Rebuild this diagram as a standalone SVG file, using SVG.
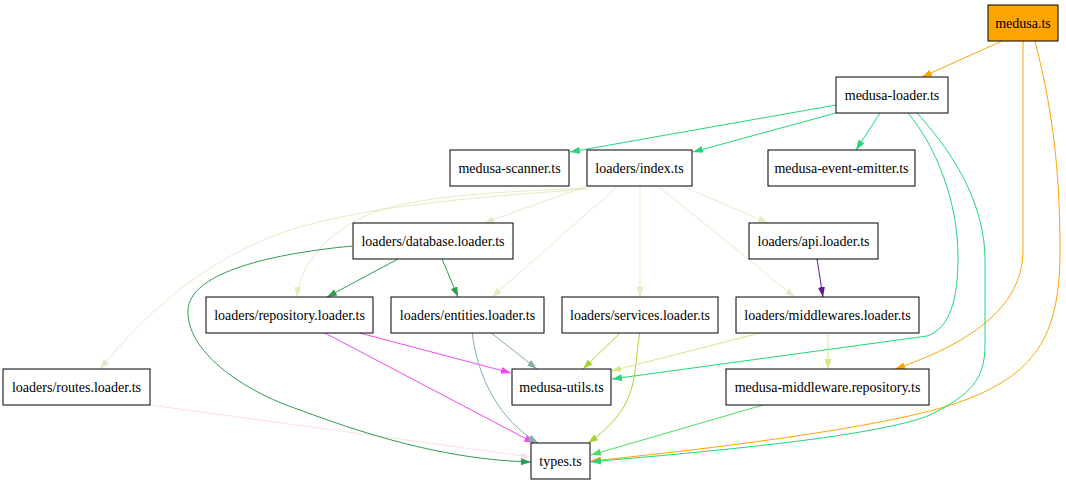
<svg xmlns="http://www.w3.org/2000/svg" width="1066" height="483" viewBox="0 0 1066 483">
<style>
.n rect{fill:#fff;stroke:#000;stroke-width:1}
.n text{font-family:"Liberation Serif","Times New Roman",serif;font-size:14px;fill:#000;text-anchor:middle}
.e path{fill:none;stroke-width:1}
</style>
<defs>
<marker id="a-or" markerUnits="userSpaceOnUse" markerWidth="10" markerHeight="7" refX="10" refY="3.5" orient="auto"><path d="M0,0L10,3.5L0,7z" fill="#ffa500"/></marker>
<marker id="a-sg" markerUnits="userSpaceOnUse" markerWidth="10" markerHeight="7" refX="10" refY="3.5" orient="auto"><path d="M0,0L10,3.5L0,7z" fill="#22d67a"/></marker>
<marker id="a-bg" markerUnits="userSpaceOnUse" markerWidth="10" markerHeight="7" refX="10" refY="3.5" orient="auto"><path d="M0,0L10,3.5L0,7z" fill="#e9e9c6"/></marker>
<marker id="a-dg" markerUnits="userSpaceOnUse" markerWidth="10" markerHeight="7" refX="10" refY="3.5" orient="auto"><path d="M0,0L10,3.5L0,7z" fill="#2e9e50"/></marker>
<marker id="a-mg" markerUnits="userSpaceOnUse" markerWidth="10" markerHeight="7" refX="10" refY="3.5" orient="auto"><path d="M0,0L10,3.5L0,7z" fill="#f446f4"/></marker>
<marker id="a-tl" markerUnits="userSpaceOnUse" markerWidth="10" markerHeight="7" refX="10" refY="3.5" orient="auto"><path d="M0,0L10,3.5L0,7z" fill="#80b0a8"/></marker>
<marker id="a-yg" markerUnits="userSpaceOnUse" markerWidth="10" markerHeight="7" refX="10" refY="3.5" orient="auto"><path d="M0,0L10,3.5L0,7z" fill="#a6d42c"/></marker>
<marker id="a-py" markerUnits="userSpaceOnUse" markerWidth="10" markerHeight="7" refX="10" refY="3.5" orient="auto"><path d="M0,0L10,3.5L0,7z" fill="#d6e884"/></marker>
<marker id="a-pu" markerUnits="userSpaceOnUse" markerWidth="10" markerHeight="7" refX="10" refY="3.5" orient="auto"><path d="M0,0L10,3.5L0,7z" fill="#5c1a8c"/></marker>
<marker id="a-bgr" markerUnits="userSpaceOnUse" markerWidth="10" markerHeight="7" refX="10" refY="3.5" orient="auto"><path d="M0,0L10,3.5L0,7z" fill="#48e05e"/></marker>
<marker id="a-pk" markerUnits="userSpaceOnUse" markerWidth="10" markerHeight="7" refX="10" refY="3.5" orient="auto"><path d="M0,0L10,3.5L0,7z" fill="#fde0e0"/></marker>
</defs>
<g id="connectors" class="e">
<path d="M150,405L531,457" stroke="#fde0e0" marker-end="url(#a-pk)"/>
<path d="M1002,41L922,77" stroke="#ffa500" marker-end="url(#a-or)"/>
<path d="M1023,41L1023,250C1023,310 965,345 895,369" stroke="#ffa500" marker-end="url(#a-or)"/>
<path d="M1035,41C1050,100 1060,160 1060,250C1060,330 1040,372 965,400C890,430 650,455 591,461" stroke="#ffa500" marker-end="url(#a-or)"/>
<path d="M836,105L570,152" stroke="#22d67a" marker-end="url(#a-sg)"/>
<path d="M836,113L693,152" stroke="#22d67a" marker-end="url(#a-sg)"/>
<path d="M880,113L856,150" stroke="#22d67a" marker-end="url(#a-sg)"/>
<path d="M908,113C935,145 958,200 958,257C958,300 950,328 927,336L612,379" stroke="#22d67a" marker-end="url(#a-sg)"/>
<path d="M917,113C960,160 985,210 985,260L985,345C985,380 970,395 930,415C870,440 650,456 591,462" stroke="#22d67a" marker-end="url(#a-sg)"/>
<path d="M587,186L484,223" stroke="#e9e9c6" marker-end="url(#a-bg)"/>
<path d="M587,188C500,192 430,195 380,210C330,228 300,262 297,297" stroke="#e9e9c6" marker-end="url(#a-bg)"/>
<path d="M587,189C480,197 370,205 290,230C200,260 140,320 100,369" stroke="#e9e9c6" marker-end="url(#a-bg)"/>
<path d="M618,186L492,297" stroke="#e9e9c6" marker-end="url(#a-bg)"/>
<path d="M640,186L640,297" stroke="#e9e9c6" marker-end="url(#a-bg)"/>
<path d="M658,186L795,297" stroke="#e9e9c6" marker-end="url(#a-bg)"/>
<path d="M682,186L768,223" stroke="#e9e9c6" marker-end="url(#a-bg)"/>
<path d="M398,259L327,297" stroke="#2e9e50" marker-end="url(#a-dg)"/>
<path d="M442,259L458,297" stroke="#2e9e50" marker-end="url(#a-dg)"/>
<path d="M352,246C260,255 190,275 188,310C186,350 240,390 300,410C380,440 455,460 531,462" stroke="#2e9e50" marker-end="url(#a-dg)"/>
<path d="M356,332L511,373" stroke="#f446f4" marker-end="url(#a-mg)"/>
<path d="M323,332L534,443" stroke="#f446f4" marker-end="url(#a-mg)"/>
<path d="M490,332L537,369" stroke="#80b0a8" marker-end="url(#a-tl)"/>
<path d="M472,332C478,380 500,420 538,443" stroke="#80b0a8" marker-end="url(#a-tl)"/>
<path d="M621,332L583,369" stroke="#a6d42c" marker-end="url(#a-yg)"/>
<path d="M640,332C632,375 642,405 588,443" stroke="#a6d42c" marker-end="url(#a-yg)"/>
<path d="M764,332L611,371" stroke="#d6e884" marker-end="url(#a-py)"/>
<path d="M828,332L828,369" stroke="#d6e884" marker-end="url(#a-py)"/>
<path d="M817,259L823,297" stroke="#5c1a8c" marker-end="url(#a-pu)"/>
<path d="M763,405L591,455" stroke="#48e05e" marker-end="url(#a-bgr)"/>
</g>
<g id="medusa" class="n"><rect x="988" y="5" width="70" height="36" style="fill:#ffa500"/><text x="1023" y="28">medusa.ts</text></g>
<g id="medusa-loader" class="n"><rect x="836" y="77" width="112" height="36"/><text x="892" y="100">medusa-loader.ts</text></g>
<g id="medusa-scanner" class="n"><rect x="450" y="150" width="119" height="36"/><text x="509.5" y="173">medusa-scanner.ts</text></g>
<g id="loaders-index" class="n"><rect x="587" y="150" width="105" height="36"/><text x="639.5" y="173">loaders/index.ts</text></g>
<g id="medusa-event-emitter" class="n"><rect x="768" y="150" width="147" height="36"/><text x="841.5" y="173">medusa-event-emitter.ts</text></g>
<g id="loaders-database" class="n"><rect x="353" y="223" width="160" height="36"/><text x="433" y="246">loaders/database.loader.ts</text></g>
<g id="loaders-api" class="n"><rect x="749" y="223" width="129" height="36"/><text x="813.5" y="246">loaders/api.loader.ts</text></g>
<g id="loaders-repository" class="n"><rect x="206" y="297" width="167" height="36"/><text x="289.5" y="320">loaders/repository.loader.ts</text></g>
<g id="loaders-entities" class="n"><rect x="391" y="297" width="153" height="36"/><text x="467.5" y="320">loaders/entities.loader.ts</text></g>
<g id="loaders-services" class="n"><rect x="562" y="297" width="156" height="36"/><text x="640" y="320">loaders/services.loader.ts</text></g>
<g id="loaders-middlewares" class="n"><rect x="736" y="297" width="183" height="36"/><text x="827.5" y="320">loaders/middlewares.loader.ts</text></g>
<g id="loaders-routes" class="n"><rect x="3" y="369" width="147" height="36"/><text x="76.5" y="392">loaders/routes.loader.ts</text></g>
<g id="medusa-utils" class="n"><rect x="512" y="369" width="99" height="36"/><text x="561.5" y="392">medusa-utils.ts</text></g>
<g id="medusa-middleware-repository" class="n"><rect x="726" y="369" width="203" height="36"/><text x="827.5" y="392">medusa-middleware.repository.ts</text></g>
<g id="types" class="n"><rect x="531" y="443" width="59" height="36"/><text x="560.5" y="466">types.ts</text></g>
</svg>
